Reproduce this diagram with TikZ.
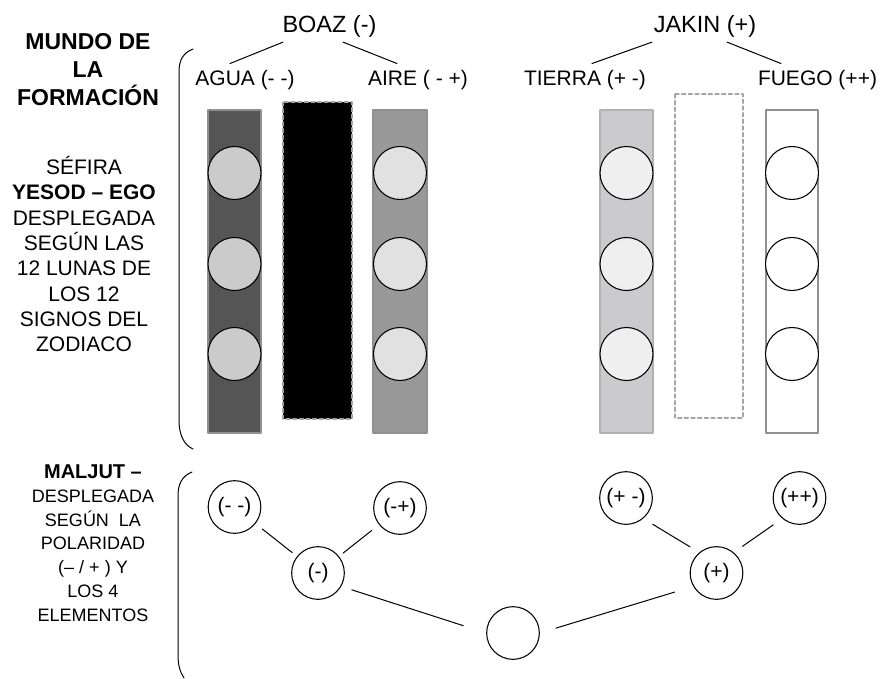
\documentclass[tikz,border=0pt]{standalone}
\usepackage{fontspec}
\setmainfont{Liberation Sans}
\usetikzlibrary{arrows}

\definecolor{agua}{HTML}{555555}
\definecolor{agualuna}{HTML}{CBCBCB}
\definecolor{aire}{HTML}{999999}
\definecolor{aireluna}{HTML}{E1E1E1}
\definecolor{tierra}{HTML}{CBCACC}
\definecolor{tierraluna}{HTML}{F0EFF0}
\definecolor{borde}{HTML}{8F8F8F}

\tikzset{
  pilar/.style={line width=1pt,draw=borde},
  hueco/.style={line width=0.9pt,draw=borde!80,dash pattern=on 3pt off 2pt},
  luna/.style={line width=0.8pt,draw=black},
  elem/.style={circle,draw=black,line width=0.8pt,minimum size=39.5pt,inner sep=0pt,font=\fontsize{15.75}{18}\selectfont},
  rama/.style={inner sep=0pt,anchor=base,font=\fontsize{15.75}{18}\selectfont},
  columna/.style={inner sep=0pt,anchor=base,font=\fontsize{17.6}{20}\selectfont},
  enlace/.style={line width=0.75pt}
}

\begin{document}
\begin{tikzpicture}[line cap=round,line join=round,x=0.75pt,y=-0.75pt]
\useasboundingbox (0,0) rectangle (881,678);
%
\draw [pilar,fill=agua] (208,110) rectangle (261,433);
\draw [hueco,fill=black] (283,102) rectangle (352,419);
\draw [pilar,fill=aire] (373,110) rectangle (427,433);
\draw [pilar,draw=borde!70,fill=tierra] (600,110) rectangle (653,433);
\draw [hueco,fill=white] (675,94) rectangle (743,418);
\draw [pilar,fill=white] (766,110) rectangle (818,433);
\foreach \y in {173,264,354}{
  \draw [luna,fill=agualuna] (234.5,\y) circle (26.5);
  \draw [luna,fill=aireluna] (400,\y) circle (26.5);
  \draw [luna,fill=tierraluna] (626.5,\y) circle (26.5);
  \draw [luna,fill=white] (792,\y) circle (26.5);
}
%
\draw [enlace] (193,49) .. controls (183,53) and (179,60) .. (179,72) -- (179,420) .. controls (179,435) and (184,445) .. (193,449);
\draw [enlace] (192,472) .. controls (182,476) and (178,484) .. (178,496) -- (178,655) .. controls (178,665) and (180,672) .. (184,678);
%
\node (titulo) [align=center,font=\bfseries\fontsize{17.25}{21}\selectfont] at (88,69.5) {MUNDO DE\\LA\\FORMACIÓN};
\node (sefira) [align=center,font=\fontsize{15.75}{19}\selectfont] at (84,254) {SÉFIRA\\\textbf{YESOD – EGO}\\DESPLEGADA\\SEGÚN LAS\\12 LUNAS DE\\LOS 12\\SIGNOS DEL\\ZODIACO};
\node (maljut) [align=center,font=\fontsize{13.5}{17.8}\selectfont] at (93,543) {\textbf{\fontsize{15}{17.8}\selectfont MALJUT –}\\DESPLEGADA\\SEGÚN\ \ LA\\POLARIDAD\\(– / + ) Y\\LOS 4\\ELEMENTOS};
%
\node (boaz) [columna] at (329.5,32) {BOAZ (-)};
\node (jakin) [columna] at (705,32) {JAKIN (+)};
\node (agua) [rama] at (245,85) {AGUA (- -)};
\node (aire) [rama] at (418,85) {AIRE ( - +)};
\node (tierra) [rama] at (585,85) {TIERRA (+ -)};
\node (fuego) [rama] at (817.5,85) {FUEGO (++)};
\draw [enlace] ([shift={(-46.5,5)}]boaz.south) -- ([shift={(-15,-6)}]agua.north);
\draw [enlace] ([shift={(13.5,5)}]boaz.south) -- ([shift={(-21,-6)}]aire.north);
\draw [enlace] ([shift={(-53,5)}]jakin.south) -- ([shift={(7,-6)}]tierra.north);
\draw [enlace] ([shift={(22,5)}]jakin.south) -- ([shift={(-36.5,-6)}]fuego.north);
%
\node (mm) [elem] at (234.5,507) {(- -)};
\node (mp) [elem] at (400,508) {(-+)};
\node (neg) [elem] at (318,573) {(-)};
\node (raiz) [elem] at (513,633) {};
\node (pos) [elem] at (716.5,573) {(+)};
\node (pm) [elem] at (626,498) {(+ -)};
\node (pp) [elem] at (799.5,498) {(++)};
\draw [enlace,shorten <=6.5pt,shorten >=4.5pt] (mm) -- (neg);
\draw [enlace,shorten <=6.9pt,shorten >=3.8pt] (mp) -- (neg);
\draw [enlace,shorten <=8.25pt,shorten >=18pt] (neg.-30) -- (raiz.180);
\draw [enlace,shorten <=12.6pt,shorten >=14.5pt] (raiz.0) -- (pos.210);
\draw [enlace,shorten <=8.2pt,shorten >=8pt] (pm.-50) -- (pos.130);
\draw [enlace,shorten <=8.2pt,shorten >=8pt] (pp.230) -- (pos.50);
\end{tikzpicture}
\end{document}
